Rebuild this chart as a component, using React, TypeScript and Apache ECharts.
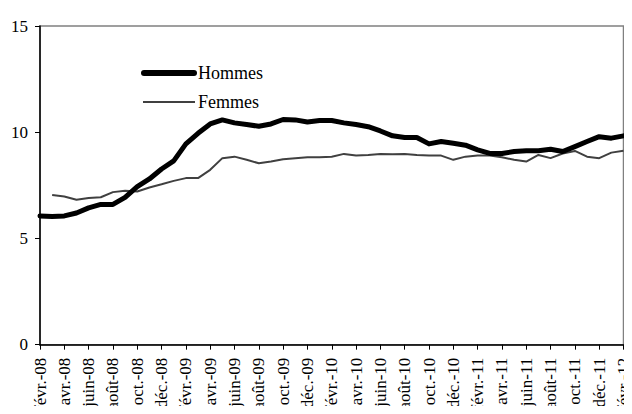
import React, { useEffect, useRef } from "react";
import * as echarts from "echarts";

const months = ["janv.", "févr.", "mars", "avr.", "mai", "juin", "juil.", "août", "sept.", "oct.", "nov.", "déc."];
const categories: string[] = [];
for (let y = 8; y <= 12; y++) {
  for (let m = 0; m < 12; m++) {
    if (y === 8 && m < 1) continue;
    if (y === 12 && m > 1) continue;
    categories.push(months[m] + "-" + String(y).padStart(2, "0"));
  }
}

const hommes = [
  6.06, 6.03, 6.06, 6.2, 6.44, 6.6, 6.6, 6.93, 7.44, 7.8, 8.27, 8.65,
  9.45, 9.95, 10.39, 10.58, 10.44, 10.36, 10.28, 10.39, 10.6, 10.58, 10.48, 10.55,
  10.55, 10.44, 10.36, 10.26, 10.06, 9.83, 9.75, 9.75, 9.45, 9.56, 9.48, 9.39,
  9.17, 9.0, 9.0, 9.09, 9.13, 9.13, 9.2, 9.09, 9.32, 9.56, 9.79, 9.72, 9.83,
];

const femmes = [
  null, 7.05, 6.97, 6.82, 6.9, 6.94, 7.18, 7.24, 7.21, 7.4, 7.55, 7.71,
  7.84, 7.84, 8.23, 8.78, 8.85, 8.7, 8.54, 8.62, 8.73, 8.78, 8.82, 8.82,
  8.85, 8.98, 8.9, 8.93, 8.98, 8.96, 8.98, 8.93, 8.9, 8.9, 8.7, 8.85,
  8.9, 8.9, 8.82, 8.7, 8.62, 8.93, 8.78, 9.0, 9.12, 8.85, 8.78, 9.04, 9.13,
];

const seriesNames = ["Hommes", "Femmes"];
const FONT = "Liberation Serif";

export default function App() {
  const ref = useRef<HTMLDivElement>(null);
  useEffect(() => {
    if (!ref.current) return;
    const chart = echarts.init(ref.current, undefined, { renderer: "svg" });
    chart.setOption({
      animation: false,
      backgroundColor: "#ffffff",
      textStyle: { fontFamily: FONT },
      grid: {
        left: 40,
        right: 6,
        top: 26,
        bottom: 69,
        show: true,
        borderColor: "#808080",
        borderWidth: 1.5,
        backgroundColor: "transparent",
      },
      graphic: [
        {
          type: "line",
          shape: { x1: 144, y1: 73, x2: 194, y2: 73 },
          style: { stroke: "#000", lineWidth: 6, lineCap: "round" },
        },
        {
          type: "text",
          x: 198,
          y: 73,
          style: { text: seriesNames[0], fontFamily: FONT, fontSize: 18, fill: "#000", verticalAlign: "middle" },
        },
        {
          type: "line",
          shape: { x1: 143, y1: 102, x2: 195, y2: 102 },
          style: { stroke: "#404040", lineWidth: 2 },
        },
        {
          type: "text",
          x: 198,
          y: 102,
          style: { text: seriesNames[1], fontFamily: FONT, fontSize: 18, fill: "#000", verticalAlign: "middle" },
        },
      ],
      xAxis: {
        type: "category",
        data: categories,
        boundaryGap: false,
        axisLine: { lineStyle: { color: "#000", width: 1.5 } },
        axisTick: { show: true, interval: 1, length: 5, lineStyle: { color: "#000" } },
        axisLabel: {
          interval: 1,
          rotate: 90,
          margin: 13,
          fontFamily: FONT,
          fontSize: 17,
          color: "#000",
        },
        splitLine: { show: false },
      },
      yAxis: {
        type: "value",
        min: 0,
        max: 15,
        interval: 5,
        axisLine: { show: true, lineStyle: { color: "#000", width: 1.5 } },
        axisTick: { show: true, length: 5, lineStyle: { color: "#000" } },
        axisLabel: { fontFamily: FONT, fontSize: 17, color: "#000", margin: 12 },
        splitLine: { show: false },
      },
      series: [
        {
          name: seriesNames[0],
          type: "line",
          data: hommes,
          symbol: "none",
          lineStyle: { color: "#000", width: 5, cap: "round", join: "round" },
          itemStyle: { color: "#000" },
          z: 3,
        },
        {
          name: seriesNames[1],
          type: "line",
          data: femmes,
          symbol: "none",
          lineStyle: { color: "#404040", width: 2 },
          itemStyle: { color: "#404040" },
          z: 2,
        },
      ],
    });
    return () => chart.dispose();
  }, []);
  return <div ref={ref} style={{ width: 632, height: 414, margin: -8 }} />;
}
